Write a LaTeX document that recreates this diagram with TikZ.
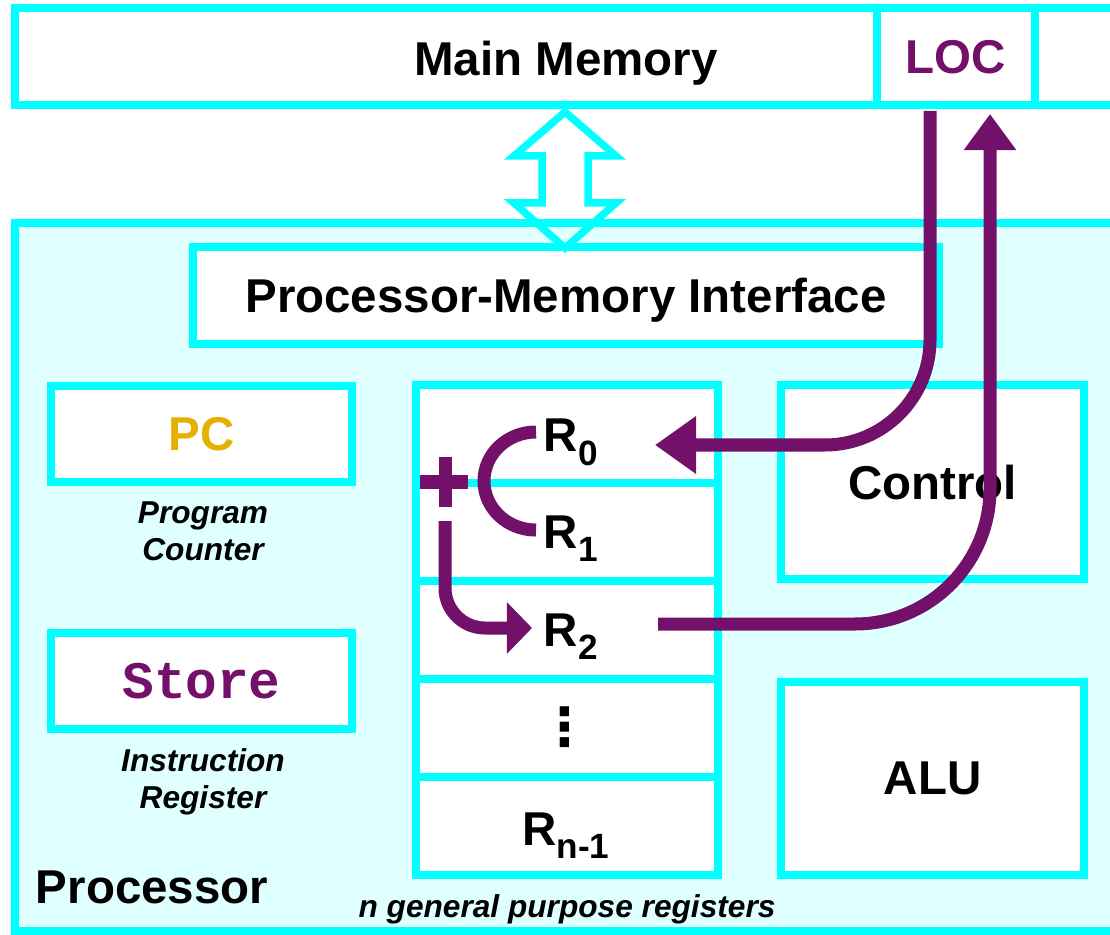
\documentclass[tikz,border=0pt]{standalone}
\usepackage{fontspec}
\setmainfont{Liberation Sans}
\setmonofont{Liberation Mono}
\newfontfamily\dotsfont{DejaVu Sans}
\usetikzlibrary{arrows.meta}
\definecolor{cyanline}{RGB}{0,255,255}
\definecolor{procfill}{RGB}{224,255,255}
\definecolor{locpurple}{RGB}{114,16,106}
\definecolor{pcgold}{RGB}{230,176,0}
\def\reg#1{R\raisebox{-3.7pt}{\fontsize{10}{10}\selectfont #1}}
\tikzset{
	box/.style={draw=cyanline, line width=0.08cm, fill=white, rectangle, inner sep=0pt, outer sep=0pt},
	big/.style={font=\fontsize{13.5}{16}\selectfont\bfseries, inner sep=0pt, text depth=0pt},
	note/.style={font=\fontsize{9}{10.5}\selectfont\bfseries\itshape, align=center, inner sep=0pt},
	flow/.style={draw=locpurple, line width=0.13cm},
}

\begin{document}
\begin{tikzpicture}[x=0.01cm, y=-0.01cm]
			%%%%% START %%%%%
			\useasboundingbox (0,0) rectangle (1110,934);
			
			\node[box, minimum width=8.615cm, minimum height=0.97cm] (mem) at (446.25,56.5) {};
			\node[box, minimum width=1.58cm, minimum height=0.97cm, big, text=locpurple] (loc) at (956,56.5) {LOC};
			\node[box, minimum width=1.2cm, minimum height=0.97cm] (memr) at (1095,56.5) {};
			\node[big, anchor=base] (memtxt) at (566,76) {Main Memory};
			
			\node[box, fill=procfill, minimum width=11.845cm, minimum height=7.08cm] (proc) at (607.75,577) {};
			\node[box, big, minimum width=7.46cm, minimum height=0.97cm] (pmi) at (566,295.5) {Processor-Memory Interface};
			
			\node[box, big, text=pcgold, minimum width=3.01cm, minimum height=0.96cm] (pc) at (201.5,434) {PC};
			\node[note] (pclbl) at (203,531) {Program\\Counter};
			\node[box, minimum width=3.01cm, minimum height=0.965cm, font=\fontsize{15}{18}\selectfont\ttfamily\bfseries, text=locpurple] (ir) at (201.5,681) {Store};
			\node[note] (irlbl) at (203,782) {Instruction\\Register};
			
			\foreach \k in {0,...,4}
				\node[box, minimum width=3.02cm, minimum height=0.98cm] (r\k) at (567,434+98*\k) {};
			\node[big, anchor=base west] (lr0) at (543,452) {\reg{0}};
			\node[big, anchor=base west] (lr1) at (543,548) {\reg{1}};
			\node[big, anchor=base west] (lr2) at (543,646) {\reg{2}};
			\node[font=\fontsize{15}{15}\selectfont\dotsfont\bfseries] (ldots) at (565,727) {⋮};
			\node[big, anchor=base] (lrn) at (566,845) {\reg{n-1}};
			\node[note, anchor=base] (regslbl) at (567,917) {n general purpose registers};
			
			\node[box, big, minimum width=3.025cm, minimum height=1.94cm] (ctrl) at (932.75,482) {Control};
			\node[box, big, minimum width=3.025cm, minimum height=1.93cm] (alu) at (932.75,778.5) {ALU};
			\node[big, anchor=base] (proclbl) at (152,903) {Processor};
			
			% memory <-> interface
			\draw[draw=cyanline, line width=0.075cm] (565,112) -- (616,156) -- (588,156) -- (588,203) -- (616,203) -- (565,248) -- (514,203) -- (542,203) -- (542,156) -- (514,156) -- cycle;
			
			% load, add, store
			\coordinate (locout) at (930,111);
			\coordinate (r0in) at (655,445);
			\coordinate (r2out) at (658,624);
			\coordinate (locin) at (990,114);
			\coordinate (sumout) at (445,521);
			\coordinate (r2in) at (532,628);
			\draw[flow, -{Triangle[length=0.41cm, width=0.55cm]}, rounded corners=1.05cm] (locout) |- (r0in);
			\draw[flow, -{Triangle[length=0.36cm, width=0.5cm]}, rounded corners=1.35cm] (r2out) -| (locin);
			\draw[flow, -{Triangle[length=0.25cm, width=0.5cm]}, rounded corners=0.4cm] (sumout) |- (r2in);
			\draw[flow] (536,432) arc[start angle=90, end angle=270, x radius=0.52cm, y radius=0.49cm];
			\draw[flow] (420,482) -- (468,482);
			\draw[flow] (445,457) -- (445,507);
			
			%%%%% END %%%%%
\end{tikzpicture}
\end{document}
